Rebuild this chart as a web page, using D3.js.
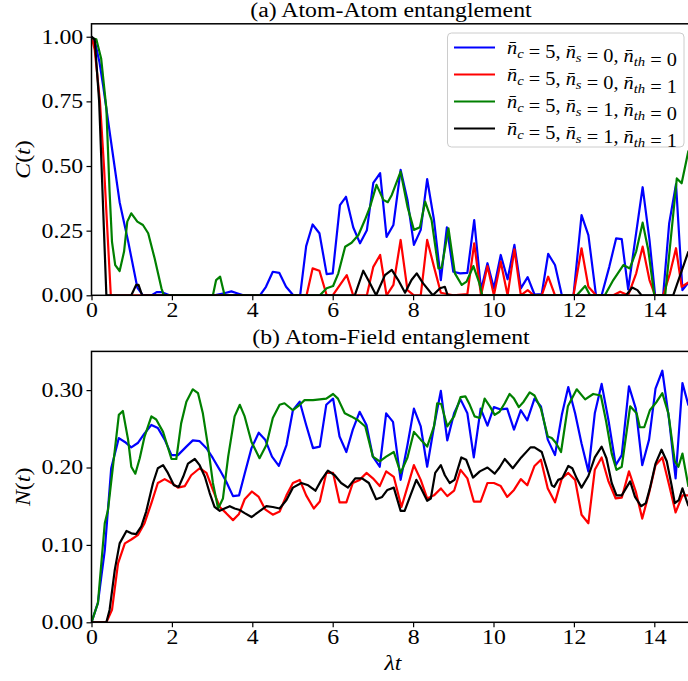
<!DOCTYPE html>
<html>
<head>
<meta charset="utf-8">
<script src="https://cdn.jsdelivr.net/npm/d3@7"></script>
<style>
  body { margin: 0; background: #fff; }
  text { font-family: "Liberation Serif", "Times New Roman", serif; }
</style>
</head>
<body>
<div id="wrapper"></div>
<script>
// parameters of the four curves (legend)
const nC = 5
const nS = [0, 0, 1, 1]
const nTh = [0, 1, 0, 1]
const colors = ["#0000ff", "#ff0000", "#008000", "#000000"]

const xTicks = [0, 2, 4, 6, 8, 10, 12, 14]
const cTicks = [0, 0.25, 0.5, 0.75, 1.0]
const nTicks = [0, 0.1, 0.2, 0.3]

// (a) concurrence C(t), [lambda t, value]
const ccS0T0 = [[0,1.0],[0.1,0.97],[0.2,0.9],[0.29,0.81],[0.49,0.59],[0.7,0.36],[0.91,0.21],[1.14,0.03],[1.28,0],[1.5,0],[1.62,0.012],[1.75,0.012],[1.94,0],[3.05,0],[3.3,0.008],[3.48,0.015],[3.62,0.008],[3.78,0],[4.19,0],[4.34,0.033],[4.51,0.091],[4.67,0.087],[4.84,0.033],[5.02,0],[5.19,0],[5.34,0.19],[5.5,0.274],[5.67,0.24],[5.85,0.082],[6.0,0.085],[6.18,0.349],[6.33,0.381],[6.51,0.263],[6.68,0.201],[6.85,0.252],[7.01,0.435],[7.18,0.472],[7.34,0.226],[7.51,0.272],[7.69,0.485],[7.86,0.369],[8.02,0.195],[8.19,0.253],[8.35,0.449],[8.52,0.291],[8.69,0.059],[8.84,0.263],[9.0,0.091],[9.17,0.085],[9.35,0.087],[9.52,0.291],[9.69,0.02],[9.85,0.124],[10.01,0.027],[10.18,0.156],[10.35,0.062],[10.52,0.195],[10.68,0.027],[10.85,0.07],[11.02,0.003],[11.2,0.005],[11.36,0.16],[11.53,0.117],[11.7,0],[11.99,0],[12.19,0.31],[12.36,0.233],[12.55,0],[12.69,0],[12.88,0.11],[13.05,0.22],[13.19,0.217],[13.35,0.023],[13.71,0.418],[13.88,0.214],[14.02,0],[14.22,0],[14.37,0.278],[14.54,0.43],[14.7,0.02],[14.85,0.05]]
const ccS0T1 = [[0,1.0],[0.08,0.95],[0.21,0.75],[0.31,0.5],[0.48,0],[5.35,0],[5.5,0.104],[5.67,0.095],[5.85,0],[6.0,0],[6.35,0.078],[6.51,0],[6.85,0],[7.01,0.11],[7.18,0.156],[7.34,0],[7.51,0.04],[7.69,0.214],[7.86,0.02],[8.02,0],[8.19,0],[8.35,0.214],[8.52,0.11],[8.69,0.01],[8.84,0.005],[9.0,0],[9.35,0.005],[9.52,0.201],[9.69,0],[9.85,0.113],[10.01,0],[10.18,0.13],[10.35,0],[10.52,0.178],[10.68,0],[10.85,0.02],[11.0,0],[11.2,0],[11.36,0.072],[11.53,0],[11.99,0],[12.19,0.182],[12.36,0.033],[12.55,0],[12.98,0],[13.15,0.014],[13.35,0],[13.55,0.085],[13.71,0.188],[13.88,0.059],[14.02,0],[14.22,0],[14.39,0.085],[14.54,0.182],[14.68,0.033],[14.85,0.05]]
const ccS1T0 = [[0,0.995],[0.12,0.99],[0.24,0.916],[0.37,0.723],[0.45,0.4],[0.51,0.207],[0.59,0.117],[0.7,0.094],[0.81,0.169],[0.89,0.285],[0.99,0.317],[1.14,0.285],[1.28,0.272],[1.41,0.24],[1.57,0.143],[1.74,0.027],[1.8,0],[3.02,0],[3.1,0.059],[3.2,0.072],[3.31,0],[5.68,0],[5.85,0.027],[6.01,0.036],[6.14,0.085],[6.31,0.188],[6.47,0.203],[6.64,0.233],[6.8,0.291],[6.93,0.343],[7.09,0.427],[7.26,0.369],[7.37,0.36],[7.47,0.388],[7.69,0.478],[7.86,0.343],[8.02,0.253],[8.17,0.263],[8.3,0.362],[8.46,0.291],[8.63,0.104],[8.71,0.107],[8.88,0.259],[9.04,0.085],[9.21,0.04],[9.33,0.053],[9.5,0.113],[9.65,0.046],[9.72,0],[12.07,0],[12.28,0.036],[12.4,0],[12.77,0],[12.98,0.059],[13.23,0.117],[13.39,0.104],[13.55,0.17],[13.71,0.281],[13.85,0.175],[14.0,0],[14.27,0],[14.56,0.452],[14.68,0.433],[14.85,0.56]]
const ccS1T1 = [[0,1.0],[0.08,0.99],[0.19,0.75],[0.25,0.5],[0.37,0],[0.99,0],[1.11,0.04],[1.17,0.04],[1.26,0],[6.55,0],[6.76,0.095],[6.93,0.046],[7.08,0],[7.3,0.078],[7.47,0.098],[7.63,0.059],[7.8,0.01],[7.96,0.059],[8.09,0.085],[8.25,0.046],[8.49,0],[8.67,0.027],[8.79,0.033],[8.86,0],[13.3,0],[13.45,0.03],[13.58,0.02],[13.68,0],[14.47,0],[14.85,0.17]]

// (b) negativity N(t), [lambda t, value]
const negS0T0 = [[0,0],[0.16,0.025],[0.33,0.093],[0.49,0.199],[0.68,0.238],[0.83,0.233],[0.99,0.226],[1.16,0.232],[1.32,0.244],[1.49,0.255],[1.65,0.251],[1.82,0.236],[1.99,0.216],[2.15,0.216],[2.36,0.227],[2.52,0.235],[2.69,0.234],[2.86,0.225],[3.02,0.212],[3.19,0.197],[3.35,0.182],[3.52,0.163],[3.67,0.164],[3.81,0.192],[3.98,0.225],[4.16,0.245],[4.32,0.236],[4.49,0.214],[4.66,0.202],[4.85,0.229],[5.01,0.274],[5.18,0.285],[5.34,0.255],[5.51,0.225],[5.68,0.227],[5.84,0.281],[6.01,0.289],[6.17,0.24],[6.34,0.22],[6.5,0.249],[6.67,0.272],[6.84,0.255],[7.0,0.214],[7.17,0.201],[7.33,0.27],[7.5,0.259],[7.69,0.184],[7.86,0.229],[8.02,0.276],[8.19,0.253],[8.35,0.201],[8.52,0.253],[8.69,0.299],[8.85,0.235],[9.02,0.27],[9.18,0.288],[9.35,0.27],[9.51,0.213],[9.68,0.276],[9.85,0.254],[10.01,0.278],[10.18,0.275],[10.34,0.276],[10.51,0.249],[10.68,0.274],[10.84,0.261],[11.02,0.289],[11.18,0.279],[11.35,0.236],[11.53,0.216],[11.7,0.268],[11.86,0.304],[12.03,0.27],[12.19,0.231],[12.36,0.195],[12.52,0.27],[12.69,0.308],[12.86,0.261],[13.04,0.203],[13.19,0.216],[13.37,0.305],[13.54,0.276],[13.7,0.203],[13.87,0.236],[14.03,0.302],[14.2,0.325],[14.37,0.261],[14.53,0.186],[14.7,0.309],[14.85,0.28]]
const negS0T1 = [[0,0],[0.37,0],[0.51,0.016],[0.66,0.076],[0.83,0.102],[0.99,0.107],[1.16,0.113],[1.32,0.128],[1.49,0.154],[1.65,0.18],[1.82,0.185],[1.99,0.18],[2.15,0.174],[2.32,0.176],[2.48,0.19],[2.69,0.199],[2.86,0.193],[3.02,0.171],[3.19,0.149],[3.35,0.141],[3.52,0.132],[3.67,0.14],[3.81,0.159],[3.99,0.169],[4.16,0.162],[4.32,0.146],[4.51,0.139],[4.68,0.143],[4.85,0.164],[5.01,0.18],[5.18,0.184],[5.34,0.164],[5.53,0.147],[5.68,0.156],[5.84,0.193],[6.01,0.193],[6.17,0.155],[6.34,0.155],[6.5,0.18],[6.67,0.184],[6.84,0.193],[7.0,0.186],[7.17,0.176],[7.33,0.195],[7.52,0.188],[7.71,0.149],[7.86,0.175],[8.02,0.203],[8.19,0.184],[8.35,0.16],[8.52,0.164],[8.69,0.173],[8.85,0.163],[9.02,0.17],[9.18,0.197],[9.35,0.186],[9.51,0.156],[9.68,0.156],[9.85,0.18],[10.01,0.18],[10.18,0.176],[10.34,0.162],[10.51,0.171],[10.68,0.185],[10.84,0.177],[11.02,0.202],[11.18,0.21],[11.35,0.173],[11.53,0.155],[11.7,0.186],[11.86,0.193],[12.03,0.184],[12.19,0.139],[12.36,0.128],[12.52,0.197],[12.69,0.213],[12.86,0.182],[13.04,0.16],[13.19,0.161],[13.37,0.195],[13.54,0.169],[13.7,0.134],[13.87,0.167],[14.03,0.203],[14.2,0.213],[14.37,0.177],[14.53,0.142],[14.7,0.164],[14.85,0.164]]
const negS1T0 = [[0,0],[0.16,0.025],[0.33,0.128],[0.41,0.145],[0.68,0.268],[0.78,0.273],[0.91,0.236],[0.99,0.201],[1.09,0.192],[1.2,0.212],[1.32,0.24],[1.49,0.266],[1.61,0.262],[1.78,0.246],[1.99,0.211],[2.11,0.211],[2.23,0.257],[2.36,0.285],[2.52,0.301],[2.65,0.296],[2.77,0.27],[2.9,0.227],[3.02,0.18],[3.15,0.147],[3.27,0.16],[3.4,0.214],[3.56,0.266],[3.69,0.281],[3.81,0.266],[3.98,0.233],[4.18,0.212],[4.35,0.229],[4.51,0.264],[4.68,0.281],[4.8,0.283],[5.01,0.274],[5.18,0.281],[5.3,0.287],[5.51,0.287],[5.68,0.288],[5.84,0.289],[6.01,0.295],[6.13,0.289],[6.3,0.27],[6.46,0.266],[6.63,0.261],[6.81,0.253],[7.0,0.214],[7.17,0.208],[7.33,0.214],[7.52,0.22],[7.69,0.193],[7.86,0.213],[8.02,0.246],[8.19,0.236],[8.35,0.227],[8.52,0.253],[8.6,0.283],[8.7,0.282],[8.85,0.253],[9.02,0.266],[9.18,0.291],[9.3,0.292],[9.41,0.281],[9.53,0.266],[9.66,0.264],[9.78,0.289],[9.91,0.279],[10.03,0.268],[10.15,0.272],[10.28,0.283],[10.4,0.295],[10.51,0.289],[10.63,0.278],[10.75,0.285],[10.9,0.297],[11.02,0.293],[11.18,0.276],[11.35,0.24],[11.45,0.238],[11.55,0.232],[11.68,0.22],[11.85,0.279],[12.07,0.301],[12.28,0.288],[12.48,0.295],[12.67,0.293],[12.8,0.26],[12.94,0.218],[13.06,0.197],[13.19,0.201],[13.4,0.279],[13.56,0.27],[13.64,0.252],[13.75,0.252],[13.89,0.274],[14.06,0.285],[14.2,0.296],[14.35,0.27],[14.51,0.208],[14.6,0.201],[14.7,0.218],[14.85,0.175]]
const negS1T1 = [[0,0],[0.37,0],[0.45,0.016],[0.58,0.068],[0.7,0.102],[0.87,0.118],[0.99,0.115],[1.11,0.114],[1.24,0.124],[1.36,0.143],[1.53,0.18],[1.65,0.199],[1.78,0.203],[1.9,0.193],[2.05,0.177],[2.17,0.175],[2.28,0.188],[2.4,0.205],[2.57,0.211],[2.69,0.203],[2.82,0.188],[2.94,0.167],[3.06,0.149],[3.19,0.144],[3.31,0.147],[3.44,0.15],[3.56,0.147],[3.69,0.145],[3.81,0.141],[3.98,0.136],[4.14,0.142],[4.35,0.15],[4.51,0.149],[4.68,0.147],[4.85,0.158],[5.01,0.174],[5.22,0.18],[5.39,0.177],[5.57,0.17],[5.72,0.184],[5.88,0.196],[6.05,0.19],[6.21,0.18],[6.38,0.174],[6.56,0.186],[6.73,0.186],[6.9,0.18],[7.08,0.159],[7.23,0.162],[7.36,0.171],[7.52,0.174],[7.69,0.144],[7.79,0.144],[7.92,0.162],[8.08,0.184],[8.2,0.173],[8.35,0.157],[8.44,0.16],[8.55,0.193],[8.69,0.203],[8.79,0.19],[8.91,0.18],[9.03,0.184],[9.2,0.213],[9.32,0.21],[9.49,0.187],[9.66,0.195],[9.85,0.2],[10.03,0.192],[10.15,0.2],[10.28,0.211],[10.48,0.199],[10.69,0.213],[10.92,0.226],[11.02,0.226],[11.2,0.22],[11.32,0.2],[11.45,0.177],[11.51,0.175],[11.61,0.184],[11.71,0.186],[11.86,0.202],[11.96,0.199],[12.07,0.186],[12.19,0.174],[12.36,0.189],[12.52,0.213],[12.69,0.227],[12.81,0.212],[12.94,0.18],[13.06,0.164],[13.19,0.164],[13.4,0.182],[13.52,0.162],[13.67,0.15],[13.79,0.154],[13.89,0.173],[14.03,0.205],[14.18,0.223],[14.31,0.208],[14.43,0.177],[14.51,0.154],[14.61,0.158],[14.7,0.173],[14.85,0.15]]

const width = 688
const height = 681
const fontSize = 20
// the reference text is wider than it is tall
const stretch = 1.19

const svg = d3.select("#wrapper")
  .append("svg")
  .attr("width", width)
  .attr("height", height)

// the figure is cut at the right: the x axis runs a bit past the image edge
const xScale = d3.scaleLinear()
  .domain([0, 15])
  .range([91.5, 694.5])

const panels = [
  {
    id: "a",
    title: "(a) Atom-Atom entanglement",
    yLabel: "C",
    series: [ccS0T0, ccS0T1, ccS1T0, ccS1T1],
    yScale: d3.scaleLinear().domain([0, 1.05]).range([295.3, 23.8]),
    ticks: cTicks,
  },
  {
    id: "b",
    title: "(b) Atom-Field entanglement",
    yLabel: "N",
    series: [negS0T0, negS0T1, negS1T0, negS1T1],
    yScale: d3.scaleLinear().domain([0, 0.35]).range([622.3, 351.4]),
    ticks: nTicks,
  },
]

panels.forEach(p => {
  const [y0, y1] = p.yScale.range()
  const [x0, x1] = xScale.range()
  const g = svg.append("g")

  g.append("clipPath")
    .attr("id", "clip-" + p.id)
    .append("rect")
    .attr("x", x0)
    .attr("y", y1)
    .attr("width", x1 - x0)
    .attr("height", y0 - y1)

  const line = d3.line()
    .x(d => xScale(d[0]))
    .y(d => p.yScale(d[1]))

  g.append("g")
    .attr("clip-path", `url(#clip-${p.id})`)
    .selectAll("path")
    .data(p.series)
    .join("path")
    .attr("d", line)
    .attr("fill", "none")
    .attr("stroke", (d, i) => colors[i])
    .attr("stroke-width", 2.2)
    .attr("stroke-linejoin", "round")

  // axes
  const xAxis = g.append("g")
    .attr("transform", `translate(0,${y0})`)
    .call(d3.axisBottom(xScale).tickValues(xTicks).tickSize(5).tickSizeOuter(0).tickPadding(3))
  const yAxis = g.append("g")
    .attr("transform", `translate(${x0},0)`)
    .call(d3.axisLeft(p.yScale).tickValues(p.ticks).tickFormat(d3.format(".2f")).tickSize(5).tickSizeOuter(0).tickPadding(2))
  ;[xAxis, yAxis].forEach(a => {
    a.select(".domain").remove()
    a.selectAll(".tick line").attr("stroke", "#000").attr("stroke-width", 1.2)
    a.selectAll(".tick text")
      .attr("fill", "#000")
      .attr("transform", `scale(${stretch},1)`)
      .style("font-family", '"Liberation Serif", serif')
      .style("font-size", fontSize + "px")
  })

  // spines
  g.append("rect")
    .attr("x", x0)
    .attr("y", y1)
    .attr("width", x1 - x0)
    .attr("height", y0 - y1)
    .attr("fill", "none")
    .attr("stroke", "#000")
    .attr("stroke-width", 1.5)

  g.append("text")
    .attr("transform", `translate(${(x0 + x1) / 2 - 2},${y1 - 7}) scale(${stretch},1)`)
    .attr("text-anchor", "middle")
    .style("font-size", fontSize + "px")
    .text(p.title)

  const yl = g.append("text")
    .attr("transform", `translate(30,${(y0 + y1) / 2}) rotate(-90) scale(${stretch},1)`)
    .attr("text-anchor", "middle")
    .style("font-size", fontSize + "px")
  yl.append("tspan").style("font-style", "italic").text(p.yLabel)
  yl.append("tspan").text("(")
  yl.append("tspan").style("font-style", "italic").text("t")
  yl.append("tspan").text(")")
})

// x label
const xl = svg.append("text")
  .attr("transform", `translate(393,670) scale(${stretch},1)`)
  .attr("text-anchor", "middle")
  .style("font-size", fontSize + "px")
  .style("font-style", "italic")
xl.append("tspan").text("λ")
xl.append("tspan").text("t")

// legend
const legend = svg.append("g")
legend.append("rect")
  .attr("x", 447.5)
  .attr("y", 33)
  .attr("width", 236.5)
  .attr("height", 114)
  .attr("rx", 4)
  .attr("fill", "#fff")
  .attr("fill-opacity", 0.8)
  .attr("stroke", "#cccccc")
  .attr("stroke-width", 1)

const legendY = d3.scaleLinear().domain([0, 3]).range([47.5, 128.5])

const addNbar = (txt, sub) => {
  txt.append("tspan").style("font-style", "italic").text("n\u0304")
  txt.append("tspan").style("font-style", "italic").style("font-size", "13px").attr("dy", 4).text(sub)
  txt.append("tspan").attr("dy", -4).text("")
}

nS.forEach((s, i) => {
  const y = legendY(i)
  legend.append("line")
    .attr("x1", 454).attr("x2", 495)
    .attr("y1", y).attr("y2", y)
    .attr("stroke", colors[i])
    .attr("stroke-width", 2.2)
  const txt = legend.append("text")
    .attr("x", 507)
    .attr("y", y + 6)
    .attr("textLength", 170)
    .attr("lengthAdjust", "spacingAndGlyphs")
    .style("font-family", '"Liberation Serif", serif')
    .style("font-size", "18px")
  addNbar(txt, "c")
  txt.append("tspan").text(` = ${nC}, `)
  addNbar(txt, "s")
  txt.append("tspan").text(` = ${s}, `)
  addNbar(txt, "th")
  txt.append("tspan").text(` = ${nTh[i]}`)
})
</script>
</body>
</html>
